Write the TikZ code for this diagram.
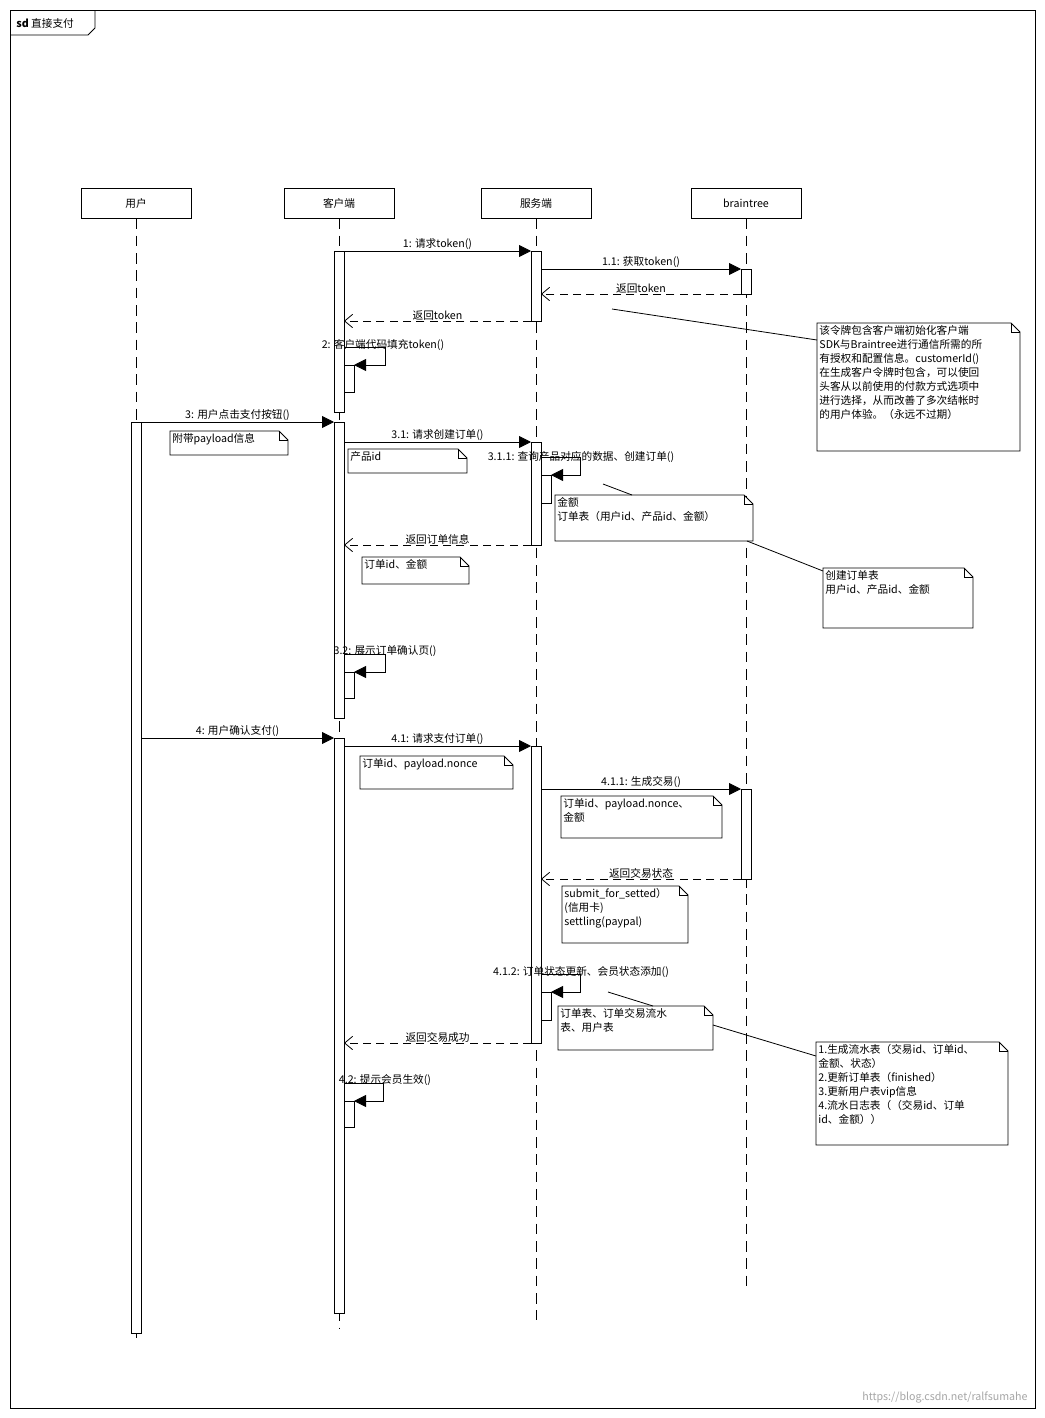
\documentclass[tikz,border=0pt]{standalone}
\usepackage{fontspec}
\setmainfont{Noto Sans CJK SC}
\usetikzlibrary{arrows.meta}
% note box with folded corner: name, x1, y1, x2, y2, text
\newcommand{\umlnote}[6]{%
  \draw[fill=white] (#2,#3) -- (#4-9,#3) -- (#4,#3+9) -- (#4,#5) -- (#2,#5) -- cycle;
  \draw (#4-9,#3) -- (#4-9,#3+9) -- (#4,#3+9);
  \node[txt,anchor=north west,align=left] (#1) at (#2,#3) {#6};}
\newcommand{\selfcall}[4]{% x of bar, label y, arrow y, bar end y, label
  \draw[fill=white] (#1,#3) rectangle (#1+10,#4);}
\tikzset{
  txt/.style={inner sep=1.5pt,font=\fontsize{8}{10.5}\selectfont},
  sync/.style={-{Triangle[length=9pt,width=9pt]}},
  ret/.style={dashed,dash pattern=on 6pt off 4pt,-{Straight Barb[length=6pt,width=10pt]}},
  act/.style={draw,fill=white},
  head/.style={draw,minimum width=82.5pt,minimum height=22.5pt,txt}
}
\begin{document}
\begin{tikzpicture}[x=0.75pt,y=-0.75pt,line width=0.6pt]
	\useasboundingbox (0,0) rectangle (1045,1418);
	\fill[white] (0,0) rectangle (1045,1418);
	% frame
	\draw (10,10) rectangle (1035,1408);
	\draw (10,35) -- (88,35) -- (95,28) -- (95,10);
	\node[txt,anchor=west] (sd) at (14,23) {\textbf{sd} 直接支付};
	% lifelines
	\node[head] (user) at (136,203) {用户};
	\node[head] (client) at (339,203) {客户端};
	\node[head] (server) at (536,203) {服务端};
	\node[head] (bt) at (746,203) {braintree};
	\tikzstyle{life}=[dashed,dash pattern=on 8pt off 5pt]
	\draw[life] (user.south) -- (136,1345);
	\draw[life] (client.south) -- (339,1328);
	\draw[life] (server.south) -- (536,1320);
	\draw[life] (bt.south) -- (746,1292);
	% activations
	\draw[act] (131,422) rectangle (141,1333);
	\draw[act] (334,251) rectangle (344,412);
	\draw[act] (334,422) rectangle (344,718);
	\draw[act] (334,738) rectangle (344,1313);
	\draw[act] (531,251) rectangle (541,321);
	\draw[act] (531,442) rectangle (541,545);
	\draw[act] (531,746) rectangle (541,1043);
	\draw[act] (741,269) rectangle (751,294);
	\draw[act] (741,789) rectangle (751,879);
	% self calls
	\draw[act] (344,365) rectangle (354,392);
	\draw[act] (344,672) rectangle (354,698);
	\draw[act] (344,1101) rectangle (354,1127);
	\draw[act] (541,475) rectangle (551,503);
	\draw[act] (541,992) rectangle (551,1020);
	\draw[sync] (344,347) -- (385,347) -- (385,365) -- (354,365);
	\draw[sync] (344,654) -- (385,654) -- (385,672) -- (354,672);
	\draw[sync] (344,1083) -- (383,1083) -- (383,1101) -- (354,1101);
	\draw[sync] (541,457) -- (580,457) -- (580,475) -- (551,475);
	\draw[sync] (541,974) -- (580,974) -- (580,992) -- (551,992);
	\node[txt] (m2) at (383,345) {2: 客户端代码填充token()};
	\node[txt] (m32) at (385,651) {3.2: 展示订单确认页()};
	\node[txt] (m42) at (385,1080) {4.2: 提示会员生效()};
	\node[txt] (m311) at (581,457) {3.1.1: 查询产品对应的数据、创建订单()};
	\node[txt] (m412) at (581,972) {4.1.2: 订单状态更新、会员状态添加()};
	% messages
	\draw[sync] (344,251) -- node[txt,above=-1pt] {1: 请求token()} (531,251);
	\draw[sync] (541,269) -- node[txt,above=-1pt] {1.1: 获取token()} (741,269);
	\draw[ret] (741,294) -- node[txt,above=-1pt] {返回token} (541,294);
	\draw[ret] (531,321) -- node[txt,above=-1pt] {返回token} (344,321);
	\draw[sync] (141,422) -- node[txt,above=-1pt] {3: 用户点击支付按钮()} (334,422);
	\draw[sync] (344,442) -- node[txt,above=-1pt] {3.1: 请求创建订单()} (531,442);
	\draw[ret] (531,545) -- node[txt,above=-1pt] {返回订单信息} (344,545);
	\draw[sync] (141,738) -- node[txt,above=-1pt] {4: 用户确认支付()} (334,738);
	\draw[sync] (344,746) -- node[txt,above=-1pt] {4.1: 请求支付订单()} (531,746);
	\draw[sync] (541,789) -- node[txt,above=-1pt] {4.1.1: 生成交易()} (741,789);
	\draw[ret] (741,879) -- node[txt,above=-1pt] {返回交易状态} (541,879);
	\draw[ret] (531,1043) -- node[txt,above=-1pt] {返回交易成功} (344,1043);
	% notes
	\umlnote{nTok}{817}{323}{1020}{451}{该令牌包含客户端初始化客户端\\SDK与Braintree进行通信所需的所\\有授权和配置信息。customerId()\\在生成客户令牌时包含，可以使回\\头客从以前使用的付款方式选项中\\进行选择，从而改善了多次结帐时\\的用户体验。（永远不过期）}
	\umlnote{nPay}{170}{431}{288}{455}{附带payload信息}
	\umlnote{nProd}{348}{449}{467}{473}{产品id}
	\umlnote{nAmt}{555}{495}{753}{541}{金额\\订单表（用户id、产品id、金额）}
	\umlnote{nRet}{362}{557}{469}{584}{订单id、金额}
	\umlnote{nTbl}{823}{568}{973}{628}{创建订单表\\用户id、产品id、金额}
	\umlnote{nNonce}{360}{756}{513}{789}{订单id、payload.nonce}
	\umlnote{nTx}{561}{796}{722}{838}{订单id、payload.nonce、\\金额}
	\umlnote{nSt}{562}{886}{688}{943}{submit\_for\_setted）\\(信用卡)\\settling(paypal)}
	\umlnote{nUpd}{558}{1006}{713}{1050}{订单表、订单交易流水\\表、用户表}
	\umlnote{nLog}{816}{1042}{1008}{1145}{1.生成流水表（交易id、订单id、\\金额、状态）\\2.更新订单表（finished）\\3.更新用户表vip信息\\4.流水日志表（（交易id、订单\\id、金额））}
	% anchors
	\draw (612,309) -- (817,340);
	\draw (603,484) -- (632,495);
	\draw (747,541) -- (823,571);
	\draw (608,992) -- (653,1006);
	\draw (713,1025) -- (816,1056);
	\node[txt,text=black!35,anchor=east] (wm) at (1030,1398) {https://blog.csdn.net/ralfsumahe};
\end{tikzpicture}
\end{document}
